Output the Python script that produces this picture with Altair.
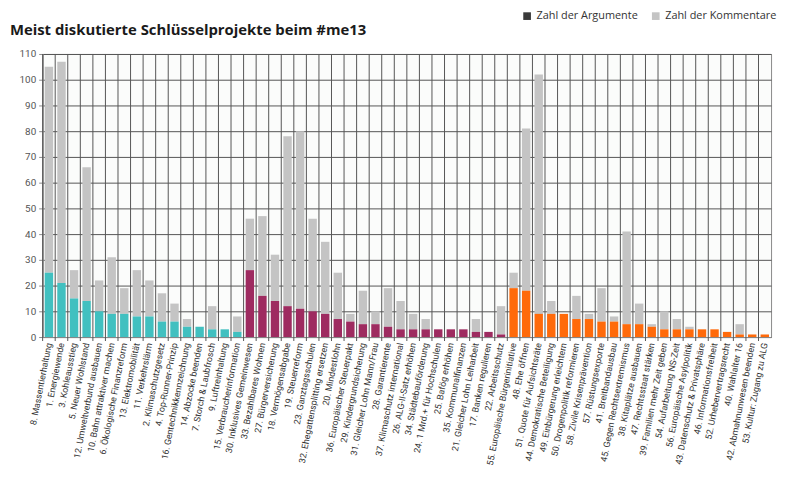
import altair as alt
import pandas as pd

labels = [
    "8. Massentierhaltung", "1. Energiewende", "3. Kohleausstieg", "5. Neuer Wohlstand",
    "12. Umweltverbund ausbauen", "10. Bahn attraktiver machen", "6. Ökologische Finanzreform",
    "13. Elektromobilität", "11. Verkehrslärm", "2. Klimaschutzgesetz", "4. Top-Runner-Prinzip",
    "16. Gentechnikkennzeichnung", "14. Abzocke beenden", "7. Storch & Laubfrosch",
    "9. Luftreinhaltung", "15. Verbraucherinformation",
    "30. Inklusives Gemeinwesen", "33. Bezahlbares Wohnen", "27. Bürgerversicherung",
    "18. Vermögensabgabe", "19. Steuerreform", "23. Ganztagsschulen",
    "32. Ehegattensplitting ersetzen", "20. Mindestlohn", "36. Europäischer Steuerpakt",
    "29. Kindergrundsicherung", "31. Gleicher Lohn Mann/Frau", "28. Garantierente",
    "37. Klimaschutz international", "26. ALG-II-Satz erhöhen", "34. Städtebauförderung",
    "24. 1 Mrd.+ für Hochschulen", "25. Bafög erhöhen", "35. Kommunalfinanzen",
    "21. Gleicher Lohn Leiharbeit", "17. Banken regulieren", "22. Arbeitsschutz",
    "55. Europäische Bürgerinitiative", "48. Ehe öffnen", "51. Quote für Aufsichtsräte",
    "44. Demokratische Beteiligung", "49. Einbürgerung erleichtern", "50. Drogenpolitik reformieren",
    "58. Zivile Krisenprävention", "57. Rüstungsexporte", "41. Breitbandausbau",
    "45. Gegen Rechtsextremismus", "38. Kitaplätze ausbauen", "47. Rechtsstaat stärken",
    "39. Familien mehr Zeit geben", "54. Aufarbeitung NS-Zeit", "56. Europäische Asylpolitik",
    "43. Datenschutz & Privatsphäre", "46. Informationsfreiheit", "52. Urhebervertragsrecht",
    "40. Wahlalter 16", "42. Abmahnunwesen beenden", "53. Kultur: Zugang zu ALG",
]

argumente = [
    25, 21, 15, 14, 10, 9, 9, 8, 8, 6, 6, 4, 4, 3, 3, 2,
    26, 16, 14, 12, 11, 10, 9, 7, 6, 5, 5, 4, 3, 3, 3, 3, 3, 3, 2, 2, 1,
    19, 18, 9, 9, 9, 7, 7, 6, 6, 5, 5, 4, 3, 3, 3, 3, 3, 2, 1, 1, 1,
]

kommentare = [
    80, 86, 11, 52, 12, 22, 10, 18, 14, 11, 7, 3, 0, 9, 0, 6,
    20, 31, 18, 66, 69, 36, 28, 18, 3, 13, 5, 15, 11, 6, 4, 0, 0, 0, 5, 0, 11,
    6, 63, 93, 5, 0, 9, 2, 13, 2, 36, 8, 1, 7, 4, 1, 0, 0, 0, 4, 0, 0,
]

gruppe = ["A"] * 16 + ["B"] * 21 + ["C"] * 21

title_text = "Meist diskutierte Schlüsselprojekte beim #me13"
group_colors = ["#41c0c0", "#9e2b60", "#ff6a0a"]
series_names = ["Zahl der Argumente", "Zahl der Kommentare"]
series_colors = ["#3a3a3a", "#c4c4c4"]

df = pd.DataFrame({
    "label": labels,
    "args": argumente,
    "comments": kommentare,
    "group": gruppe,
})

grid_color = "#555555"
axis_color = "#8a8a8a"
PLOT_H = 286

x_axis = alt.Axis(labels=False, ticks=False, domain=True,
                  domainColor=axis_color, grid=False)
x_scale = alt.Scale(paddingInner=0, paddingOuter=0)

y_axis = alt.Axis(values=list(range(0, 111, 10)), grid=True,
                  gridColor=grid_color, gridWidth=1, tickSize=4,
                  tickColor=axis_color, domainColor=axis_color,
                  labelFont="Roboto", labelFontSize=10, labelOverlap=False,
                  labelColor="#555555", labelPadding=3)
y_scale = alt.Scale(domain=[0, 110], nice=False)

base = alt.Chart(df).transform_calculate(
    total="datum.args + datum.comments",
    series="'Zahl der Kommentare'",
)

vgrid = base.mark_rule(color=grid_color, strokeWidth=1).encode(
    x=alt.X("label:N", sort=labels, title=None, bandPosition=0,
            scale=x_scale, axis=x_axis),
    y=alt.value(0),
    y2=alt.value(PLOT_H + 4),
)

grey = base.mark_bar(width={"band": 0.67}).encode(
    x=alt.X("label:N", sort=labels, title=None, scale=x_scale, axis=x_axis),
    y=alt.Y("args:Q", title=None, scale=y_scale, axis=y_axis),
    y2="total:Q",
    color=alt.Color("series:N",
                    scale=alt.Scale(domain=series_names, range=series_colors),
                    legend=alt.Legend(orient="none", legendX=484, legendY=-44,
                                      direction="horizontal", title=None,
                                      symbolType="square", symbolSize=60,
                                      symbolStrokeWidth=0,
                                      labelFont="Open Sans", labelFontSize=11,
                                      labelColor="#333333", columnPadding=12,
                                      labelOffset=4)),
)

colored = base.mark_bar(width={"band": 0.67}).encode(
    x=alt.X("label:N", sort=labels, title=None, scale=x_scale, axis=x_axis),
    y=alt.Y("args:Q", title=None, scale=y_scale, axis=y_axis),
    fill=alt.Fill("group:N",
                  scale=alt.Scale(domain=["A", "B", "C"], range=group_colors),
                  legend=None),
)

xlabels = base.mark_text(
    angle=281, align="right", baseline="middle", fontSize=9,
    font="Roboto", color="#333333",
).encode(
    x=alt.X("label:N", sort=labels, title=None, scale=x_scale, axis=x_axis),
    y=alt.value(PLOT_H + 6),
    text="label:N",
)

title_layer = alt.Chart(pd.DataFrame({"t": [title_text]})).mark_text(
    align="left", baseline="middle", fontSize=15, fontWeight="bold",
    font="Open Sans", color="#1a1a1a",
).encode(
    x=alt.value(-33), y=alt.value(-24), text="t:N",
)

chart = alt.layer(vgrid, grey, colored, xlabels, title_layer).properties(
    width=736,
    height=PLOT_H,
    autosize=alt.AutoSizeParams(type="none"),
    padding={"left": 35, "top": 44, "right": 6, "bottom": 144},
    background="white",
).configure_view(
    fill="#fbfcfb", stroke=axis_color, strokeWidth=1,
)

chart.save("out.html", embed_options={"renderer": "svg", "actions": False})
